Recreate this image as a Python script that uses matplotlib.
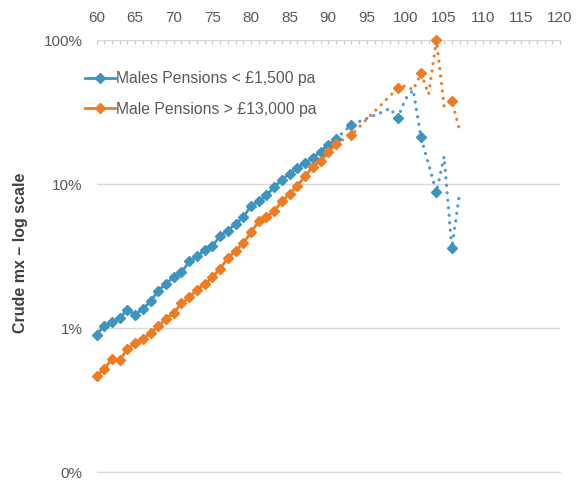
import numpy as np
import matplotlib
matplotlib.use("Agg")
import matplotlib.pyplot as plt
from matplotlib.ticker import FixedLocator, MultipleLocator, FixedFormatter

plt.rcParams['font.family'] = ['Liberation Sans', 'DejaVu Sans']

# crude mortality rates (%) by age, main run with markers
ages = list(range(60, 92))
low_pension = [0.90, 1.03, 1.10, 1.17, 1.34, 1.24, 1.36, 1.53, 1.82, 2.03,
               2.26, 2.43, 2.90, 3.14, 3.46, 3.69, 4.38, 4.74, 5.30, 5.86,
               7.07, 7.57, 8.33, 9.53, 10.7, 11.8, 13.0, 14.0, 15.2, 16.8,
               18.7, 20.5]
high_pension = [0.467, 0.52, 0.61, 0.596, 0.718, 0.787, 0.843, 0.923, 1.03, 1.155,
                1.27, 1.49, 1.63, 1.85, 2.02, 2.26, 2.58, 3.06, 3.44, 3.89,
                4.61, 5.50, 5.86, 6.53, 7.57, 8.56, 9.73, 11.3, 13.2, 14.4,
                16.6, 19.0]

# sparse data at the oldest ages (dotted)
low_tail_ages = [91, 93, 95, 97, 98, 99, 100, 101, 102, 104, 105, 106, 107]
low_tail = [20.5, 25.8, 28.5, 31.6, 33.5, 28.7, 39.0, 45.0, 21.1, 8.8, 15.5, 3.6, 8.6]
high_tail_ages = [91, 93, 99, 100, 101, 102, 103, 104, 105, 106, 107]
high_tail = [19.0, 22.0, 46.4, 48.0, 45.0, 59.0, 42.0, 100.0, 34.5, 38.0, 23.6]
marked_ages = [93, 99, 102, 104, 106]

labels = ["Males Pensions < £1,500 pa", "Male Pensions > £13,000 pa"]
ytick_vals = [0.1, 1, 10, 100]
ytick_labels = ["0%", "1%", "10%", "100%"]

blue = "#3D94C1"
blue_dot = "#4C9BD8"
orange = "#F07B22"
orange_dot = "#F07D2A"
grid_col = "#D9D9D9"
text_col = "#595959"

fig = plt.figure(figsize=(5.77, 4.82), dpi=100)
ax = fig.add_axes([96.5 / 577, 1 - 472 / 482, (560 - 96.5) / 577, 432 / 482])

ax.set_yscale('log')
ax.set_xlim(60, 120)
ax.set_ylim(0.1, 100)

dot_style = dict(linestyle=(0, (0.05, 2.3)), linewidth=2.3, dash_capstyle='round')
ax.plot(low_tail_ages, low_tail, color=blue_dot, **dot_style, zorder=2)
ax.plot(high_tail_ages, high_tail, color=orange_dot, **dot_style, zorder=2)

mk = dict(marker='D', markersize=5.6)
h1, = ax.plot(ages, low_pension, color=blue, linewidth=2.0, **mk, zorder=3, clip_on=False)
h2, = ax.plot(ages, high_pension, color=orange, linewidth=2.0, **mk, zorder=3, clip_on=False)

low_marks = [v for a, v in zip(low_tail_ages, low_tail) if a in marked_ages]
high_marks = [v for a, v in zip(high_tail_ages, high_tail) if a in marked_ages]
ax.plot(marked_ages, low_marks, linestyle='none', color=blue, **mk, zorder=4, clip_on=False)
ax.plot(marked_ages, high_marks, linestyle='none', color=orange, **mk, zorder=4, clip_on=False)

# axes styling
for side in ['left', 'right']:
    ax.spines[side].set_visible(False)
ax.spines['top'].set_color(grid_col)
ax.spines['bottom'].set_color(grid_col)
ax.yaxis.set_major_locator(FixedLocator(ytick_vals))
ax.yaxis.set_major_formatter(FixedFormatter(ytick_labels))
ax.yaxis.set_minor_locator(FixedLocator([]))
ax.grid(axis='y', which='major', color=grid_col, linewidth=1)
ax.tick_params(axis='y', length=0, pad=10, labelsize=11, labelcolor=text_col)

ax.xaxis.tick_top()
ax.xaxis.set_major_locator(MultipleLocator(5))
ax.xaxis.set_minor_locator(MultipleLocator(1))
ax.tick_params(axis='x', which='both', direction='in', length=3, width=0.8,
               color="#C8C8C8", labelsize=11, labelcolor=text_col, pad=11)

fig.text(21 / 577, 1 - 253 / 482, "Crude mx \u2013 log scale", rotation=90,
         ha='center', va='center', fontsize=11.5, fontweight='bold', color="#404040")

fig.legend([h1, h2], labels, loc='upper left', bbox_to_anchor=(85 / 577, 1 - 71 / 482),
           frameon=False, fontsize=11.3, labelcolor=text_col, handlelength=1.9,
           handletextpad=0.05, labelspacing=1.0, borderpad=0, borderaxespad=0)

fig.savefig("out.png", dpi=100)
